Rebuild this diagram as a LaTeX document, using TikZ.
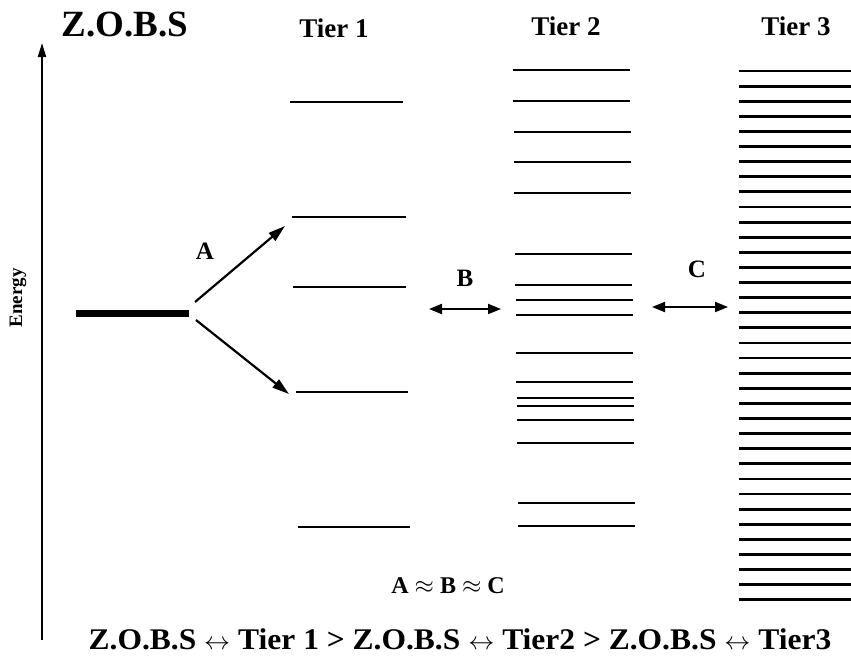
\documentclass[tikz,border=0pt]{standalone}
\usepackage{fontspec}
\setmainfont{Liberation Serif}
\usetikzlibrary{arrows.meta}
\begin{document}
\begin{tikzpicture}[x=1pt,y=-1pt,
  level/.style={line width=2.8pt},
  ground/.style={line width=7pt},
  txt/.style={inner sep=0pt, font=\bfseries\fontsize{25}{28}\selectfont},
  tiertxt/.style={inner sep=0pt, font=\bfseries\fontsize{27}{30}\selectfont},
  trans/.style={line width=2.2pt, -{Triangle[length=17pt,width=10pt]}},
  coupling/.style={line width=2pt, {Triangle[length=13pt,width=10pt]}-{Triangle[length=13pt,width=10pt]}},
  axis/.style={line width=2.2pt, -{Triangle[length=14pt,width=8pt]}}]
\useasboundingbox (0,0) rectangle (851,659);

% titles
\node[inner sep=0pt, font=\bfseries\fontsize{37}{40}\selectfont] (title) at (125,25) {Z.O.B.S};
\node[tiertxt] (t1) at (334,28) {Tier 1};
\node[tiertxt] (t2) at (566,26) {Tier 2};
\node[tiertxt] (t3) at (796,26) {Tier 3};

% energy axis
\coordinate (ax0) at (42,640);
\coordinate (ax1) at (42,43);
\draw[axis] (ax0) -- (ax1);
\node[rotate=90, inner sep=0pt, font=\bfseries\fontsize{19}{22}\selectfont] (energy) at (18,298) {Energy};

% Z.O.B.S level
\coordinate (g0) at (76,313);
\coordinate (g1) at (189,313);
\draw[ground] (g0) -- (g1);

% Tier 1
\draw[level] (290,102) -- (403,102);
\draw[level] (292,217) -- (406,217);
\draw[level] (293,287) -- (406,287);
\draw[level] (296,392) -- (408,392);
\draw[level] (298,527) -- (410,527);

% Tier 2
\foreach \y in {70,101,132,162,193,254,285,300,315,353,382,398,406,420,443,503,526}{
  \pgfmathsetmacro{\xa}{513+(\y-70)*5/456}
  \draw[level] (\xa,\y) -- (\xa+117,\y);
}

% Tier 3
\foreach \i in {0,...,35}{
  \pgfmathsetmacro{\yy}{71+\i*15.11}
  \draw[level] (739,\yy) -- (851,\yy);
}

% A transitions
\coordinate (a0) at (195,302);
\coordinate (a1) at (285,226);
\coordinate (b0) at (196,320);
\coordinate (b1) at (289,394);
\draw[trans] (a0) -- (a1);
\draw[trans] (b0) -- (b1);
\node[txt] (A) at (205,251) {A};

% B and C couplings
\coordinate (B0) at (429,309);
\coordinate (B1) at (501,309);
\draw[coupling] (B0) -- (B1);
\node[txt] (B) at (465,278) {B};
\coordinate (C0) at (652,307);
\coordinate (C1) at (728,307);
\draw[coupling] (C0) -- (C1);
\node[txt] (C) at (697,269) {C};

% relations
\node[inner sep=0pt, font=\bfseries\fontsize{24}{26}\selectfont] (eq) at (448,586) {A $\approx$ B $\approx$ C};
\node[inner sep=0pt, font=\bfseries\fontsize{30}{32}\selectfont] (order) at (460,639)
  {\scalebox{1.05}[1]{Z.O.B.S $\leftrightarrow$ Tier 1 > Z.O.B.S $\leftrightarrow$ Tier2 > Z.O.B.S $\leftrightarrow$ Tier3}};
\end{tikzpicture}
\end{document}
